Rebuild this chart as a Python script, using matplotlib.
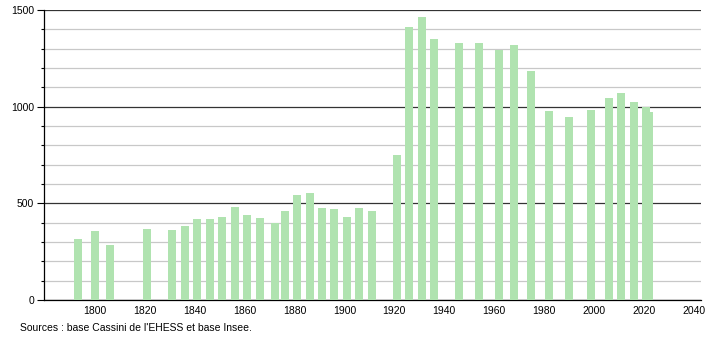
import matplotlib
matplotlib.use("Agg")
import matplotlib.pyplot as plt
from matplotlib.ticker import MultipleLocator

years = [1793, 1800, 1806, 1821, 1831, 1836, 1841, 1846, 1851, 1856, 1861, 1866,
         1872, 1876, 1881, 1886, 1891, 1896, 1901, 1906, 1911, 1921, 1926, 1931,
         1936, 1946, 1954, 1962, 1968, 1975, 1982, 1990, 1999, 2006, 2011, 2016,
         2022, 2021]
population = [316, 357, 284, 367, 362, 384, 419, 419, 431, 483, 440, 423,
              397, 460, 543, 555, 478, 469, 431, 478, 460, 750, 1410, 1466,
              1350, 1328, 1328, 1293, 1319, 1184, 978, 945, 983, 1046, 1069, 1026,
              974, 997]
x_ticks = [1800, 1820, 1840, 1860, 1880, 1900, 1920, 1940, 1960, 1980, 2000, 2020, 2040]
y_ticks = [0, 500, 1000, 1500]
source = "Sources : base Cassini de l'EHESS et base Insee."

plt.rcParams['font.family'] = ['Liberation Sans', 'DejaVu Sans']

fig = plt.figure(figsize=(7.1, 3.4), dpi=100)
ax = fig.add_axes([44/710, 40/340, (701-44)/710, 290/340])

ax.bar(years, population, width=3.2, color='#b0e3b0', zorder=3, linewidth=0)

ax.set_xlim(1779.5, 2043)
ax.set_ylim(0, 1500)

ax.set_yticks(y_ticks)
ax.yaxis.set_minor_locator(MultipleLocator(100))
ax.set_xticks(x_ticks)
ax.set_xticklabels([str(t) for t in x_ticks])

ax.grid(axis='y', which='minor', color='#c8c8c8', linewidth=0.9, zorder=1)
ax.grid(axis='y', which='major', color='#333333', linewidth=0.9, zorder=2)
ax.grid(axis='x', visible=False)

for s in ['top', 'right']:
    ax.spines[s].set_visible(False)
ax.spines['left'].set_color('black')
ax.spines['bottom'].set_color('black')
ax.spines['left'].set_linewidth(0.9)
ax.spines['bottom'].set_linewidth(0.9)

ax.tick_params(axis='y', which='major', length=5, width=0.8, pad=2, labelsize=7.5)
ax.tick_params(axis='y', which='minor', length=2, width=0.8)
ax.tick_params(axis='x', which='major', length=0, pad=4, labelsize=7.5)

fig.text(20/710, 1 - 328/340, source, fontsize=7.5, va='center', ha='left')

fig.savefig('out.png', dpi=100)
